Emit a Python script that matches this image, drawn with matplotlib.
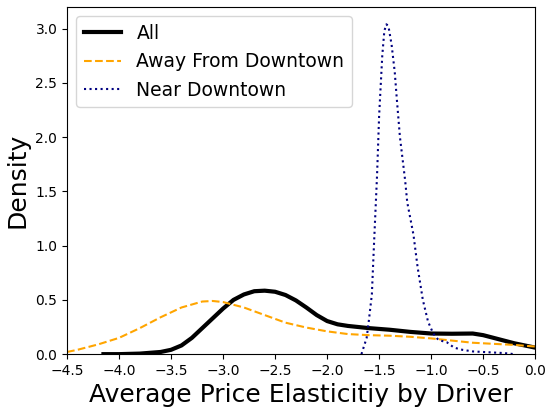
import matplotlib
matplotlib.use('Agg')
import matplotlib.pyplot as plt

# density estimates of driver price elasticity
all_x = [-4.15, -4.0, -3.8, -3.6, -3.5, -3.4, -3.3, -3.2, -3.1, -3.0, -2.9, -2.8, -2.7,
         -2.6, -2.5, -2.4, -2.3, -2.2, -2.1, -2.0, -1.9, -1.8, -1.6, -1.4, -1.2, -1.0,
         -0.8, -0.6, -0.5, -0.4, -0.3, -0.2, -0.1, 0.0]
all_y = [0.0, 0.0, 0.005, 0.02, 0.04, 0.08, 0.15, 0.24, 0.33, 0.42, 0.5, 0.55, 0.58,
         0.585, 0.575, 0.545, 0.495, 0.43, 0.36, 0.305, 0.275, 0.26, 0.24, 0.225, 0.205, 0.19,
         0.188, 0.19, 0.175, 0.15, 0.125, 0.1, 0.08, 0.06]

away_x = [-4.5, -4.4, -4.2, -4.0, -3.8, -3.6, -3.4, -3.2, -3.1, -3.0, -2.8, -2.6, -2.4,
          -2.2, -2.0, -1.8, -1.6, -1.4, -1.2, -1.0, -0.8, -0.6, -0.4, -0.2, 0.0]
away_y = [0.02, 0.04, 0.09, 0.15, 0.24, 0.34, 0.43, 0.485, 0.49, 0.48, 0.43, 0.36, 0.29,
          0.245, 0.21, 0.185, 0.175, 0.17, 0.16, 0.145, 0.125, 0.105, 0.095, 0.085, 0.07]

near_x = [-1.67, -1.62, -1.6, -1.57, -1.55, -1.52, -1.5, -1.47, -1.45, -1.43, -1.41, -1.38,
          -1.35, -1.33, -1.3, -1.25, -1.23, -1.2, -1.17, -1.13, -1.08, -1.03, -0.98, -0.93,
          -0.85, -0.78, -0.7, -0.6, -0.5, -0.4, -0.3, -0.25, -0.2]
near_y = [0.0, 0.15, 0.3, 0.55, 1.0, 1.65, 2.2, 2.75, 2.98, 3.04, 3.02, 2.85, 2.6, 2.35,
          2.0, 1.6, 1.4, 1.25, 1.1, 0.8, 0.5, 0.3, 0.19, 0.13, 0.11, 0.06, 0.04, 0.025,
          0.02, 0.015, 0.01, 0.005, 0.0]

fig = plt.figure(figsize=(5.45, 4.08), dpi=100)
ax = fig.add_axes([0.123, 0.132, 0.859, 0.851])

ax.plot(all_x, all_y, color='black', linewidth=3, label='All')
ax.plot(away_x, away_y, color='orange', linestyle='--', linewidth=1.5, label='Away From Downtown')
ax.plot(near_x, near_y, color='navy', linestyle=':', linewidth=1.5, label='Near Downtown')

ax.set_xlim(-4.5, 0.0)
ax.set_ylim(0, 3.2)
ax.set_xlabel('Average Price Elasticitiy by Driver', fontsize=18)
ax.set_ylabel('Density', fontsize=18)
ax.legend(loc='upper left', fontsize=13.5)

fig.savefig('out.png', dpi=100)
